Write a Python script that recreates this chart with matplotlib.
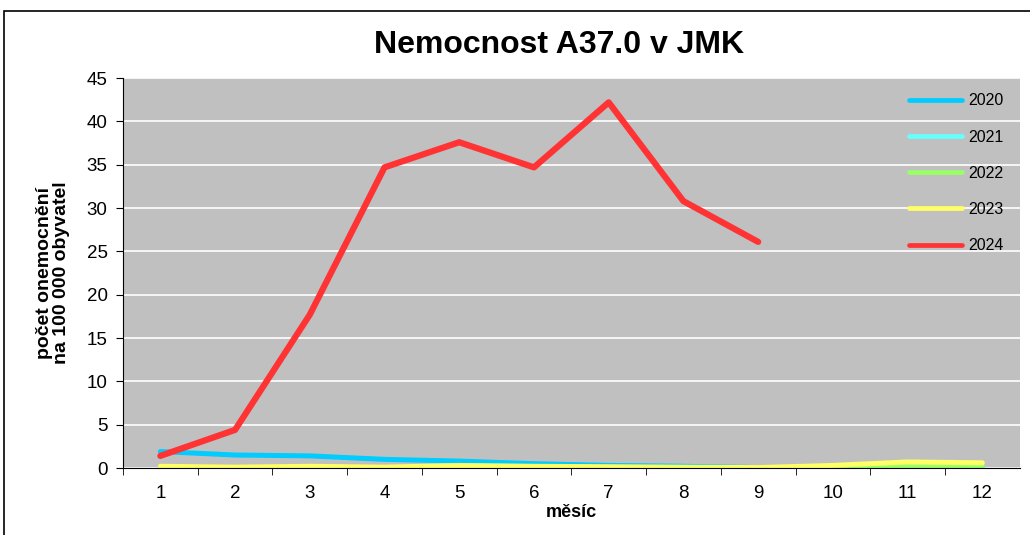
import matplotlib.pyplot as plt
from matplotlib.patches import Rectangle

plt.rcParams['font.family'] = ['Liberation Sans', 'DejaVu Sans']

months = list(range(1, 13))
years = ["2020", "2021", "2022", "2023", "2024"]
colors = ["#00CCFF", "#66FFFF", "#99FF66", "#FFFF66", "#FF3333"]

y2020 = [1.9, 1.5, 1.4, 1.0, 0.8, 0.5, 0.3, 0.2, 0.05, 0.05, 0.05, 0.05]
y2021 = [0.05, 0.0, 0.05, 0.05, 0.05, 0.05, 0.05, 0.05, 0.0, 0.05, 0.05, 0.05]
y2022 = [0.05, 0.05, 0.1, 0.05, 0.1, 0.05, 0.05, 0.05, 0.0, 0.05, 0.3, 0.2]
y2023 = [0.2, 0.1, 0.2, 0.1, 0.3, 0.2, 0.15, 0.1, 0.05, 0.3, 0.7, 0.6]
y2024 = [1.4, 4.4, 17.7, 34.7, 37.6, 34.7, 42.2, 30.8, 26.1]

series = [y2020, y2021, y2022, y2023, y2024]

fig = plt.figure(figsize=(10.3, 5.35), dpi=100)
ax = fig.add_axes([0.1194, 0.1252, 0.8706, 0.7288])
ax.set_facecolor("#C0C0C0")

for name, vals, c in zip(years, series, colors):
    lw = 4.5 if name == "2024" else 3.6
    ax.plot(months[:len(vals)], vals, color=c, linewidth=lw, label=name,
            solid_capstyle="round", solid_joinstyle="round")

ax.set_xlim(0.5, 12.5)
ax.set_ylim(0, 45)
ax.set_yticks(range(0, 46, 5))
ax.set_xticks(months)
ax.set_xticks([m + 0.5 for m in range(0, 12)], minor=True)
ax.tick_params(axis="x", which="major", length=0, labelsize=13.5, pad=12)
ax.tick_params(axis="x", which="minor", length=5, direction="out")
ax.tick_params(axis="y", length=5, direction="out", labelsize=13.5, pad=6)
ax.grid(axis="y", color="white", linewidth=1.2)
ax.set_axisbelow(True)
for s in ["top", "right"]:
    ax.spines[s].set_visible(False)

fig.text(559 / 1030, 1 - 45 / 535, "Nemocnost A37.0 v JMK", fontsize=23,
         fontweight="bold", ha="center", va="center")
ax.set_xlabel("měsíc", fontsize=13, fontweight="bold", labelpad=2)
ax.set_ylabel("počet onemocnění\nna 100 000 obyvatel", fontsize=14,
              fontweight="bold", labelpad=12, linespacing=1.0)

leg = ax.legend(loc="upper right", frameon=False, fontsize=11.5,
                handlelength=3.3, labelspacing=1.33, handletextpad=0.4,
                bbox_to_anchor=(0.998, 0.998))
for h in leg.get_lines():
    h.set_linewidth(3.4)

fig.patches.append(Rectangle((0.004, -0.1), 1.2, 1.08, transform=fig.transFigure,
                             fill=False, edgecolor="black", linewidth=1.2))

fig.savefig("out.png", dpi=100)
